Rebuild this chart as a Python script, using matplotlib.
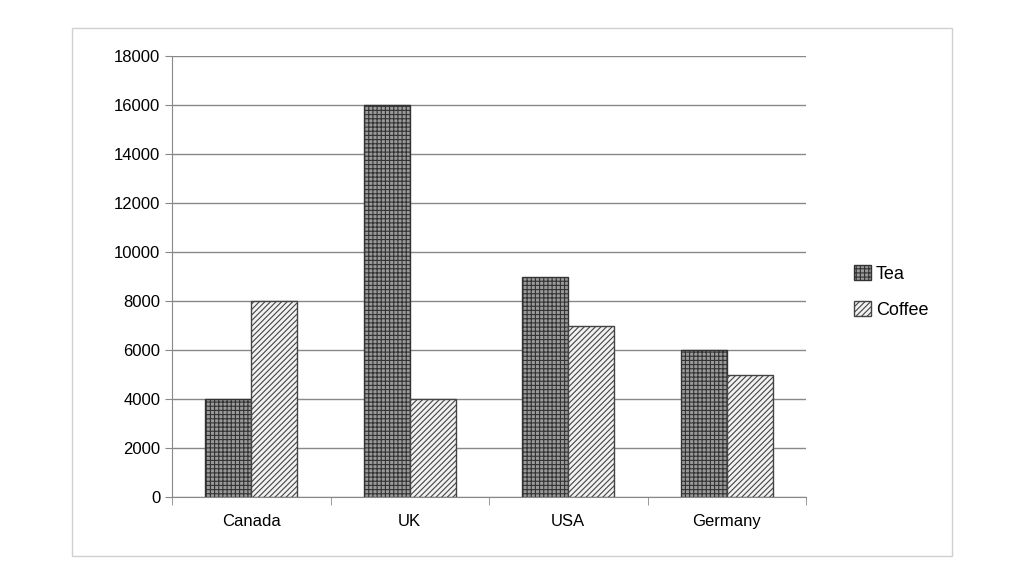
import matplotlib
matplotlib.use("Agg")
import matplotlib.pyplot as plt
import numpy as np
from matplotlib.patches import Rectangle

categories = ["Canada", "UK", "USA", "Germany"]
tea = [4000, 16000, 9000, 6000]
coffee = [8000, 4000, 7000, 5000]
yticks = list(range(0, 18001, 2000))

W, H = 1024, 585
fig = plt.figure(figsize=(W/100, H/100), dpi=100)
fig.patches.append(Rectangle((72/W, 1-556/H), 880/W, 528/H, transform=fig.transFigure,
                             fill=False, edgecolor="#d0d0d0", lw=1))
ax = fig.add_axes([172/W, 1-497/H, 634/W, 441/H])
x = np.arange(len(categories))
bw = 0.29
plt.rcParams['hatch.linewidth'] = 0.8
ax.bar(x - bw/2, tea, bw, facecolor="#9a9a9a", edgecolor="#333333", hatch="++++", lw=1, label="Tea", zorder=3)
ax.bar(x + bw/2, coffee, bw, facecolor="#f2f2f2", edgecolor="#444444", hatch="//////", lw=1, label="Coffee", zorder=3)
ax.set_xlim(-0.5, 3.5)
ax.set_ylim(0, 18000)
ax.set_yticks(yticks)
ax.set_yticklabels([str(v) for v in yticks], fontsize=12, family="Liberation Sans")
ax.set_xticks(x)
ax.set_xticklabels(categories, fontsize=12, family="Liberation Sans")
ax.yaxis.grid(True, color="#888888", lw=1, zorder=0)
for s in ["top", "right"]:
    ax.spines[s].set_visible(False)
for s in ["left", "bottom"]:
    ax.spines[s].set_color("#888888")
ax.tick_params(axis="y", length=5, color="#888888")
ax.tick_params(axis="x", length=0, pad=12)
ax.set_xticks(np.arange(-0.5, 4, 1), minor=True)
ax.tick_params(axis="x", which="minor", length=6, color="#888888")
fig.legend(loc="center left", bbox_to_anchor=(838/W, 1-292/H), frameon=False,
           prop={"family": "Liberation Sans", "size": 13}, handlelength=0.9, handleheight=0.9,
           handletextpad=0.3, labelspacing=1.0)
fig.savefig("out.png", dpi=100)
